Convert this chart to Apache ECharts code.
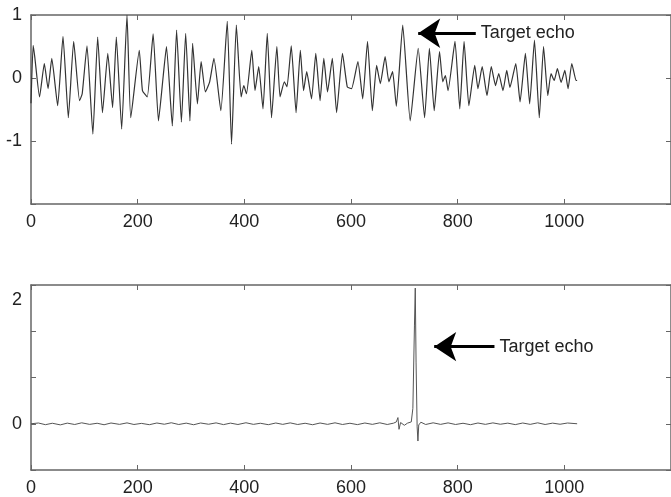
<!DOCTYPE html>
<html>
<head>
<meta charset="utf-8">
<script src="https://cdn.jsdelivr.net/npm/echarts@6/dist/echarts.min.js"></script>
<style>
  html, body { margin: 0; padding: 0; background: #fff; }
  #chart { width: 671px; height: 497px; }
</style>
</head>
<body>
<div id="chart"></div>
<script>
// Received signal (upper panel): sample index and amplitude
const rawX = [0, 4, 7, 16, 25, 32, 39, 50, 60, 70, 80, 91, 96, 105, 116, 125, 134, 144, 153, 160,
  170, 180, 187, 203, 209, 218, 229, 239, 248, 254, 265, 273, 282, 290, 298, 303, 312, 319, 327, 335,
  343, 356, 368, 376, 385, 394, 399, 404, 414, 420, 427, 435, 443, 451, 461, 467, 475, 480, 488, 497,
  505, 511, 517, 526, 534, 542, 549, 556, 565, 573, 584, 593, 601, 613, 622, 631, 640, 648, 655, 664,
  671, 678, 685, 697, 711, 726, 738, 747, 756, 766, 772, 777, 782, 795, 804, 812, 821, 832, 838, 846,
  855, 863, 871, 877, 885, 892, 898, 909, 917, 927, 935, 944, 953, 961, 969, 975, 981, 987, 994, 1001,
  1007, 1014, 1022, 1024];
const rawY = [-0.4, 0.52, 0.34, -0.3, 0.23, -0.17, 0.31, -0.44, 0.66, -0.63, 0.58, -0.36, -0.25, 0.51, -0.89, 0.65, -0.55, 0.39, -0.47, 0.65,
  -0.81, 1.0, -0.63, 0.44, -0.2, -0.3, 0.7, -0.68, 0.04, 0.5, -0.76, 0.76, -0.7, 0.71, -0.68, 0.55, -0.41, 0.26, -0.22, -0.06,
  0.31, -0.52, 0.9, -1.05, 0.84, -0.3, -0.12, -0.25, 0.44, -0.2, 0.18, -0.49, 0.71, -0.63, 0.5, -0.3, -0.06, -0.14, 0.51, -0.55,
  0.44, -0.2, 0.1, -0.33, 0.39, -0.36, 0.31, -0.22, 0.31, -0.55, 0.39, -0.14, -0.17, 0.26, -0.33, 0.58, -0.52, 0.2, -0.09, 0.34,
  -0.06, 0.1, -0.45, 0.84, -0.68, 0.47, -0.63, 0.47, -0.52, 0.42, -0.06, 0.04, -0.2, 0.58, -0.49, 0.58, -0.44, 0.2, -0.17, 0.18,
  -0.28, 0.18, -0.12, 0.07, -0.2, 0.12, -0.15, 0.23, -0.38, 0.39, -0.41, 0.6, -0.63, 0.5, -0.28, 0.07, -0.04, 0.15, -0.07, 0.12,
  -0.17, 0.23, -0.04, -0.04];

// Matched-filter output (lower panel)
const mfX = [0, 14, 27, 40, 55, 68, 82, 95, 110, 124, 137, 150, 166, 180, 193, 207, 222, 236, 250, 263,
  277, 291, 305, 318, 333, 347, 361, 374, 388, 403, 417, 430, 445, 459, 472, 486, 500, 514, 528, 542,
  556, 570, 584, 598, 612, 626, 640, 654, 668, 680, 685, 688, 690, 693, 700, 706, 713, 716, 719, 720.5,
  722, 724, 725.5, 727, 731, 740, 754, 768, 782, 796, 810, 824, 838, 852, 866, 880, 894, 908, 922, 936,
  950, 964, 978, 992, 1006, 1024];
const mfY = [0, 0.012, -0.015, 0.008, -0.018, 0.01, -0.012, 0.015, -0.01, 0.008, -0.016, 0.012, -0.01, 0.014, -0.012, 0.006, -0.015, 0.012, -0.008, 0.016,
  -0.012, 0.01, -0.016, 0.012, -0.008, 0.014, -0.014, 0.01, -0.012, 0.016, -0.01, 0.008, -0.015, 0.012, -0.01, 0.014, -0.012, 0.008, -0.016, 0.012,
  -0.01, 0.015, -0.012, 0.008, -0.014, 0.012, -0.01, 0.015, -0.012, 0.01, 0.03, 0.1, -0.09, 0.02, -0.025, 0.01, 0.03, 0.25, 1.6, 2.2,
  1.0, -0.05, -0.28, -0.02, 0.025, -0.012, 0.015, -0.01, 0.014, -0.012, 0.008, -0.015, 0.012, -0.01, 0.014, -0.008, 0.01, -0.014, 0.012, -0.01,
  0.015, -0.012, 0.01, -0.008, 0.012, 0];

// Axis ticks and labels
const xTicks = [0, 200, 400, 600, 800, 1000];
const topYLabels = [-1, 0, 1];
const bottomYLabels = [0, 2];
const bottomYTicks = [-0.75, 0, 0.75, 1.5, 2.25];

// Annotation anchors: arrow tail x, arrow tip x, height
const topNote = { text: 'Target echo', tailX: 834, headX: 726, y: 0.71 };
const bottomNote = { text: 'Target echo', tailX: 869, headX: 756, y: 1.25 };

const FONT = "'Liberation Sans', Arial, sans-serif";
const frameColor = '#666';
const labelStyle = { color: '#222', fontSize: 18, fontFamily: FONT };

function zip(xs, ys) { return xs.map((x, i) => [x, ys[i]]); }
function plain(v) { return String(v); }

function xAxes(gridIndex) {
  const base = {
    gridIndex, type: 'value', min: 0, max: 1200, interval: 200,
    splitLine: { show: false },
    axisLine: { show: true, onZero: false, lineStyle: { color: frameColor, width: 1.5 } },
    axisTick: { show: true, inside: true, length: 5, lineStyle: { color: frameColor, width: 1 } }
  };
  return [
    Object.assign({}, base, {
      position: 'bottom',
      axisLabel: Object.assign({ show: true, margin: 9, customValues: xTicks, formatter: plain }, labelStyle)
    }),
    Object.assign({}, base, { position: 'top', axisLabel: { show: false } })
  ];
}

function yAxes(gridIndex, min, max, interval, labels, ticks) {
  const base = {
    gridIndex, type: 'value', min, max, interval,
    splitLine: { show: false },
    axisLine: { show: true, onZero: false, lineStyle: { color: frameColor, width: 1.5 } },
    axisTick: { show: true, inside: true, length: 5, lineStyle: { color: frameColor, width: 1 } }
  };
  if (ticks) base.axisTick.customValues = ticks;
  return [
    Object.assign({}, base, {
      position: 'left',
      axisLabel: Object.assign({ show: true, margin: 9, customValues: labels, formatter: plain }, labelStyle)
    }),
    Object.assign({}, base, { position: 'right', axisLabel: { show: false } })
  ];
}

function annotation(note) {
  return {
    markLine: {
      silent: true,
      animation: false,
      symbol: ['none', 'arrow'],
      symbolSize: 22,
      label: { show: false },
      lineStyle: { color: '#000', width: 3, type: 'solid' },
      itemStyle: { color: '#000' },
      emphasis: { disabled: true },
      data: [[{ coord: [note.tailX, note.y] }, { coord: [note.headX, note.y] }]]
    },
    markPoint: {
      silent: true,
      animation: false,
      symbol: 'circle',
      symbolSize: 0,
      data: [{
        coord: [note.tailX, note.y],
        label: Object.assign({ show: true, position: 'right', distance: 5, formatter: note.text }, labelStyle)
      }]
    }
  };
}

const chart = echarts.init(document.getElementById('chart'), null, { renderer: 'canvas' });
chart.setOption({
  animation: false,
  backgroundColor: '#fff',
  grid: [
    { left: 31, top: 15, width: 643, height: 189 },
    { left: 31, top: 285, width: 643, height: 189 }
  ],
  xAxis: [...xAxes(0), ...xAxes(1)],
  yAxis: [
    ...yAxes(0, -2, 1, 1, topYLabels, null),
    ...yAxes(1, -0.75, 2.25, 0.75, bottomYLabels, bottomYTicks)
  ],
  series: [
    Object.assign({
      type: 'line', xAxisIndex: 0, yAxisIndex: 0,
      data: zip(rawX, rawY),
      showSymbol: false, smooth: 0.15,
      lineStyle: { color: '#333', width: 1.2 }
    }, annotation(topNote)),
    Object.assign({
      type: 'line', xAxisIndex: 2, yAxisIndex: 2,
      data: zip(mfX, mfY),
      showSymbol: false,
      lineStyle: { color: '#555', width: 1 }
    }, annotation(bottomNote))
  ]
});
</script>
</body>
</html>
